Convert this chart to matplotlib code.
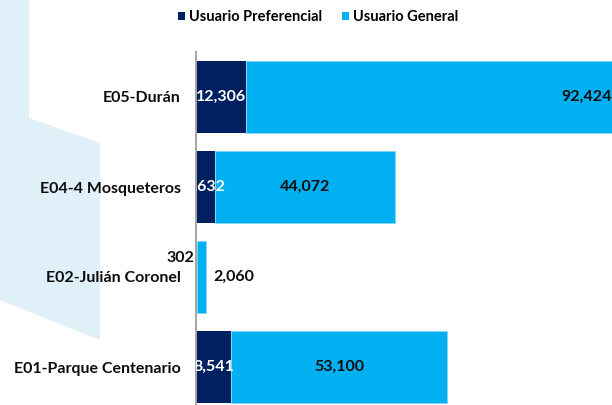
import matplotlib
matplotlib.use("Agg")
import matplotlib.pyplot as plt
from matplotlib.patches import Polygon, Patch

categories = ["E01-Parque Centenario", "E02-Julián Coronel", "E04-4 Mosqueteros", "E05-Durán"]
preferencial = [8541, 302, 4632, 12306]
general = [53100, 2060, 44072, 92424]
series_names = ["Usuario Preferencial", "Usuario General"]

dark = "#002060"
light = "#00B0F0"
FONT = "Lato"
TXT = "#0d0d0d"

W, H = 612, 405
fig = plt.figure(figsize=(W / 100, H / 100), dpi=100)

# decorative background shape (figure pixel coords from top-left)
pts = [(0, 0), (29, 0), (29, 118), (100, 143), (100, 340), (0, 300)]
poly = Polygon([(x / W, 1 - y / H) for x, y in pts], closed=True,
               transform=fig.transFigure, facecolor="#DFF0F8", edgecolor="none", zorder=-5)
fig.patches.append(poly)

ax = fig.add_axes([196 / W, (H - 412) / H, 489.6 / W, 360 / H])
ax.set_zorder(1)
ax.patch.set_alpha(0)
ypos = list(range(len(categories)))
ax.barh(ypos, preferencial, height=0.79, color=dark, edgecolor="none", zorder=2)
ax.barh(ypos, general, left=preferencial, height=0.79, color=light,
        edgecolor="#7FD8F8", linewidth=0.6, zorder=2)
ax.set_xlim(0, 120000)
ax.set_ylim(-0.5, 3.5)
ax.set_yticks(ypos)
ax.set_yticklabels(categories, fontfamily=FONT, fontweight="bold", fontsize=11.5, color=TXT)
ax.tick_params(axis="y", length=0, pad=11)
ax.set_xticks([])
for s in ["top", "right", "bottom"]:
    ax.spines[s].set_visible(False)
ax.spines["left"].set_color("#A6A6A6")
ax.spines["left"].set_linewidth(1.4)
ax.spines["left"].set_zorder(3)

lab = dict(fontfamily=FONT, fontweight="bold", fontsize=11.5)
for i, (p, g) in enumerate(zip(preferencial, general)):
    name = categories[i]
    if name.startswith("E02"):
        ax.annotate(f"{p:,}", (0, i), xytext=(-1.5, 14), textcoords="offset points",
                    ha="right", va="center", color=TXT, annotation_clip=False, **lab)
        ax.annotate(f"{g:,}", (p + g, i), xytext=(5.5, 0), textcoords="offset points",
                    ha="left", va="center", color=TXT, **lab)
        continue
    t = ax.text(p / 2, i, f"{p:,}", ha="center", va="center", color="white", zorder=4, **lab)
    t.set_clip_on(True)
    if name.startswith("E05"):
        ax.annotate(f"{g:,}", (p + g, i), xytext=(-8.0, 0), textcoords="offset points",
                    ha="right", va="center", color=TXT, zorder=4, **lab)
    else:
        ax.text(p + g / 2, i, f"{g:,}", ha="center", va="center", color=TXT, zorder=4, **lab)

handles = [Patch(facecolor=dark, edgecolor="none"), Patch(facecolor=light, edgecolor="none")]
fig.legend(handles, series_names, loc="center", bbox_to_anchor=(318 / W, 1 - 17 / H),
           ncol=2, frameon=False, handlelength=0.5, handleheight=0.5, handletextpad=0.25,
           columnspacing=1.4, prop=dict(family=FONT, weight="bold", size=10.5))

fig.savefig("out.png", dpi=100)
